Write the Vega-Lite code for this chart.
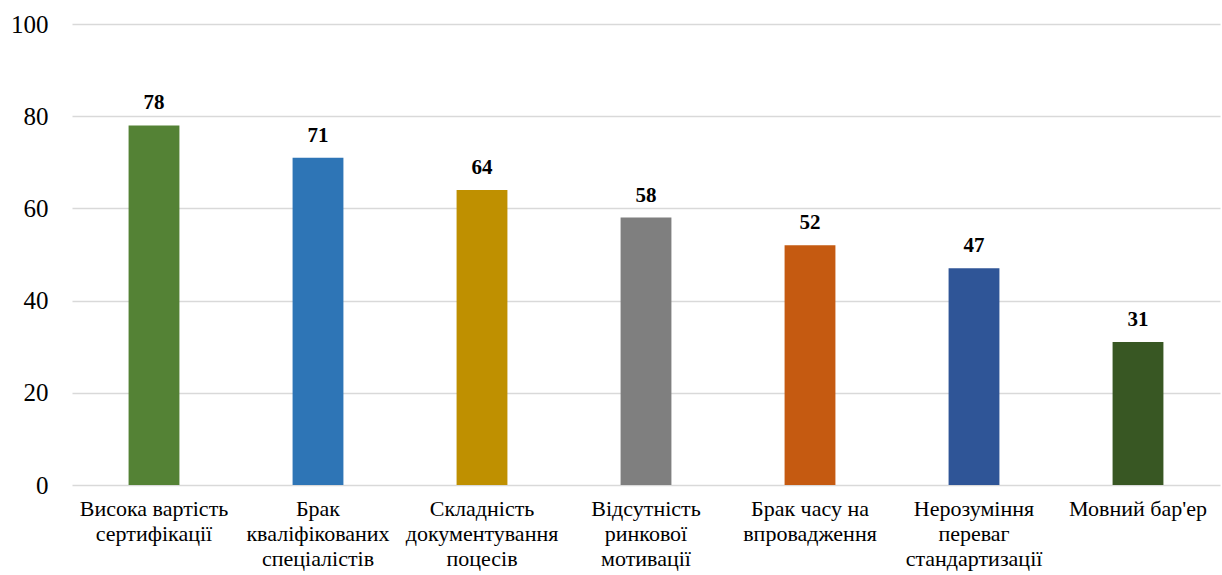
{
  "$schema": "https://vega.github.io/schema/vega-lite/v6.json",
  "width": 1148,
  "height": 461,
  "autosize": "none",
  "padding": {"left": 72, "top": 24, "right": 2, "bottom": 90},
  "background": "white",
  "config": {
    "view": {"stroke": null},
    "font": "Liberation Serif"
  },
  "data": {
    "values": [
      {"barrier": "Висока вартість|сертифікації", "value": 78, "colour": "#548235"},
      {"barrier": "Брак|кваліфікованих|спеціалістів", "value": 71, "colour": "#2E75B6"},
      {"barrier": "Складність|документування|поцесів", "value": 64, "colour": "#BF9000"},
      {"barrier": "Відсутність|ринкової|мотивації", "value": 58, "colour": "#7F7F7F"},
      {"barrier": "Брак часу на|впровадження", "value": 52, "colour": "#C55A11"},
      {"barrier": "Нерозуміння|переваг|стандартизації", "value": 47, "colour": "#2F5597"},
      {"barrier": "Мовний бар'ер", "value": 31, "colour": "#385723"}
    ]
  },
  "encoding": {
    "x": {
      "field": "barrier",
      "type": "nominal",
      "sort": null,
      "title": null,
      "scale": {"paddingInner": 0.69, "paddingOuter": 0.345},
      "axis": {
        "labelExpr": "split(datum.label, '|')",
        "labelAngle": 0,
        "labelFont": "Liberation Serif",
        "labelFontSize": 22,
        "labelLineHeight": 25,
        "labelColor": "#000000",
        "labelPadding": 13,
        "labelBaseline": "top",
        "ticks": false,
        "domain": false,
        "labelLimit": 300
      }
    },
    "y": {
      "field": "value",
      "type": "quantitative",
      "title": null,
      "scale": {"domain": [0, 100]},
      "axis": {
        "values": [0, 20, 40, 60, 80, 100],
        "labelFont": "Liberation Serif",
        "labelFontSize": 25,
        "labelColor": "#000000",
        "labelPadding": 24,
        "ticks": false,
        "domain": false,
        "gridColor": "#D9D9D9",
        "gridWidth": 1.5
      }
    }
  },
  "layer": [
    {
      "mark": {"type": "bar"},
      "encoding": {
        "color": {"field": "colour", "type": "nominal", "scale": null, "legend": null}
      }
    },
    {
      "mark": {
        "type": "text",
        "baseline": "alphabetic",
        "dy": -16,
        "font": "Liberation Serif",
        "fontSize": 21,
        "fontWeight": "bold",
        "color": "#000000"
      },
      "encoding": {
        "text": {"field": "value", "type": "quantitative"}
      }
    }
  ]
}
